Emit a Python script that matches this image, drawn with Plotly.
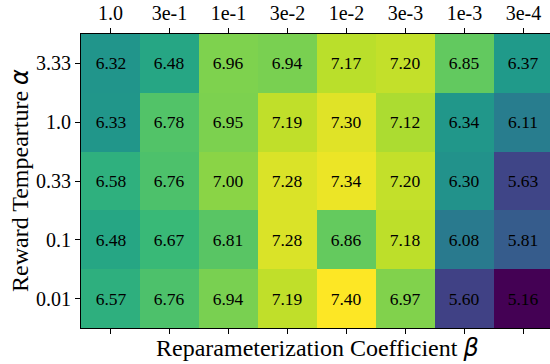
import plotly.graph_objects as go

beta_labels = ["1.0", "3e-1", "1e-1", "3e-2", "1e-2", "3e-3", "1e-3", "3e-4"]
alpha_labels = ["3.33", "1.0", "0.33", "0.1", "0.01"]

row_333 = [6.32, 6.48, 6.96, 6.94, 7.17, 7.20, 6.85, 6.37]
row_10 = [6.33, 6.78, 6.95, 7.19, 7.30, 7.12, 6.34, 6.11]
row_033 = [6.58, 6.76, 7.00, 7.28, 7.34, 7.20, 6.30, 5.63]
row_01 = [6.48, 6.67, 6.81, 7.28, 6.86, 7.18, 6.08, 5.81]
row_001 = [6.57, 6.76, 6.94, 7.19, 7.40, 6.97, 5.60, 5.16]

z = [row_333, row_10, row_033, row_01, row_001]
text = [[f"{v:.2f}" for v in row] for row in z]
xs = list(range(len(beta_labels)))
ys = list(range(len(alpha_labels)))

FONT = "Liberation Serif"
GREEK = "<span style='font-family:DejaVu Sans'><i>{}</i></span>"

fig = go.Figure(go.Heatmap(
    z=z, x=xs, y=ys, text=text, texttemplate="%{text}",
    textfont=dict(family=FONT, size=17.5, color="black"),
    colorscale="Viridis", showscale=False, hoverinfo="skip",
    zmin=min(min(r) for r in z), zmax=max(max(r) for r in z),
))

fig.update_layout(
    width=550, height=364,
    margin=dict(l=81, r=0, t=34, b=36),
    paper_bgcolor="white", plot_bgcolor="white",
    font=dict(family=FONT, size=20, color="black"),
    xaxis=dict(range=[-0.5, 7.45], side="top", tickvals=xs, ticktext=beta_labels,
               ticks="outside", ticklen=5, tickwidth=1, tickcolor="black",
               showline=True, linecolor="black", linewidth=1, mirror="ticks",
               showgrid=False, zeroline=False, tickfont=dict(size=20)),
    yaxis=dict(range=[4.5, -0.5], tickvals=ys, ticktext=alpha_labels,
               ticks="outside", ticklen=5, tickwidth=1, tickcolor="black",
               showline=True, linecolor="black", linewidth=1,
               showgrid=False, zeroline=False, tickfont=dict(size=20)),
    annotations=[
        dict(text="Reparameterization Coefficient " + GREEK.format("β"),
             xref="paper", yref="paper",
             x=(317 - 81) / 469, y=0, yshift=-20, yanchor="middle", showarrow=False,
             font=dict(family=FONT, size=24)),
        dict(text="Reward Tempearture " + GREEK.format("α"),
             xref="paper", yref="paper",
             x=0, xshift=-61, y=0.5, textangle=-90, xanchor="center", yanchor="middle",
             showarrow=False, font=dict(family=FONT, size=24)),
    ],
)

fig.write_html("out.html", config={"displayModeBar": False},
               post_script="document.body.style.margin='0';document.body.style.overflow='hidden';")
